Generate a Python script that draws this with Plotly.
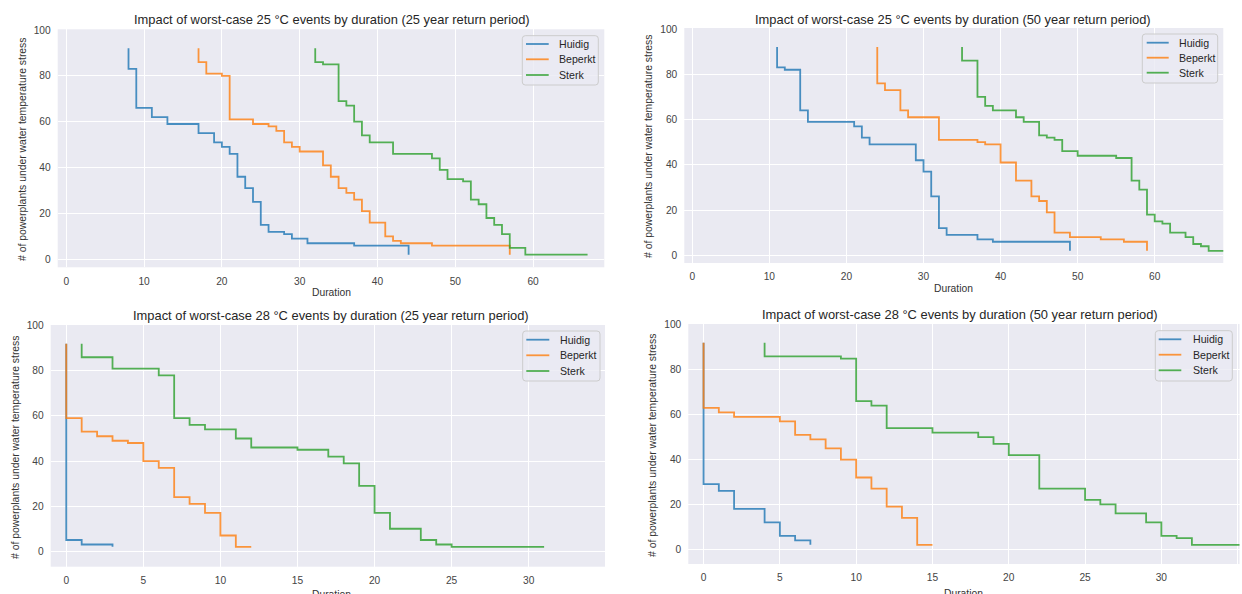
import plotly.graph_objects as go

# ---------------- data ----------------
names = ["Huidig", "Beperkt", "Sterk"]
colors = ["#1f77b4", "#ff7f0e", "#2ca02c"]

# 25 °C, 25 year
tl_huidig_x = [8, 8, 9, 11, 13, 17, 19, 20, 21, 22, 23, 24, 25, 26, 28, 29, 31, 37, 44]
tl_huidig_y = [92, 83, 66, 62, 59, 55, 51, 49, 46, 36, 31, 25, 15, 12, 11, 9, 7, 6, 2]
tl_beperkt_x = [17, 17, 18, 20, 21, 24, 26, 27, 28, 29, 30, 33, 34, 35, 36, 37, 38, 39, 41, 42, 43, 47, 57]
tl_beperkt_y = [92, 86, 81, 80, 61, 59, 58, 56, 51, 49, 47, 41, 36, 31, 29, 26, 21, 16, 10, 8, 7, 6, 2]
tl_sterk_x = [32, 32, 33, 35, 36, 37, 38, 39, 42, 47, 48, 49, 51, 52, 53, 54, 55, 56, 57, 59, 67]
tl_sterk_y = [92, 86, 85, 69, 67, 60, 54, 51, 46, 44, 39, 35, 34, 26, 24, 18, 15, 11, 5, 2, 2]

# 25 °C, 50 year
tr_huidig_x = [11, 11, 12, 14, 15, 21, 22, 23, 29, 30, 31, 32, 33, 37, 39, 49]
tr_huidig_y = [92, 83, 82, 64, 59, 57, 52, 49, 42, 37, 26, 12, 9, 7, 6, 2]
tr_beperkt_x = [24, 24, 25, 27, 28, 32, 37, 38, 40, 42, 44, 45, 46, 47, 49, 53, 56, 59]
tr_beperkt_y = [92, 76, 73, 64, 61, 51, 50, 49, 41, 33, 26, 24, 19, 10, 8, 7, 6, 2]
tr_sterk_x = [35, 35, 37, 38, 39, 42, 43, 45, 46, 47, 48, 50, 55, 57, 58, 59, 60, 61, 62, 64, 65, 66, 67, 70]
tr_sterk_y = [92, 86, 70, 66, 64, 61, 59, 53, 52, 51, 46, 44, 43, 33, 29, 18, 15, 14, 10, 8, 5, 4, 2, 2]

# 28 °C, 25 year
bl_huidig_x = [0, 0, 1, 3]
bl_huidig_y = [92, 5, 3, 2]
bl_beperkt_x = [0, 0, 1, 2, 3, 4, 5, 6, 7, 8, 9, 10, 11, 12]
bl_beperkt_y = [92, 59, 53, 51, 49, 48, 40, 37, 24, 21, 17, 7, 2, 2]
bl_sterk_x = [1, 1, 3, 6, 7, 8, 9, 11, 12, 15, 17, 18, 19, 20, 21, 23, 24, 25, 31]
bl_sterk_y = [92, 86, 81, 78, 59, 56, 54, 50, 46, 45, 42, 39, 29, 17, 10, 5, 3, 2, 2]

# 28 °C, 50 year
br_huidig_x = [0, 0, 1, 2, 4, 5, 6, 7]
br_huidig_y = [92, 29, 26, 18, 12, 6, 4, 2]
br_beperkt_x = [0, 0, 1, 2, 5, 6, 7, 8, 9, 10, 11, 12, 13, 14, 15]
br_beperkt_y = [92, 63, 61, 59, 57, 51, 49, 45, 40, 32, 27, 19, 14, 2, 2]
br_sterk_x = [4, 4, 9, 10, 11, 12, 15, 18, 19, 20, 22, 25, 26, 27, 29, 30, 31, 32, 36]
br_sterk_y = [92, 86, 85, 66, 64, 54, 52, 50, 47, 42, 27, 22, 20, 16, 12, 6, 5, 2, 2]

titles = [
    "Impact of worst-case 25 °C events by duration (25 year return period)",
    "Impact of worst-case 25 °C events by duration (50 year return period)",
    "Impact of worst-case 28 °C events by duration (25 year return period)",
    "Impact of worst-case 28 °C events by duration (50 year return period)",
]
x_label = "Duration"
y_label = "# of powerplants under water temperature stress"
top_xticks = [0, 10, 20, 30, 40, 50, 60]
bottom_xticks = [0, 5, 10, 15, 20, 25, 30, 35]
yticks = [0, 20, 40, 60, 80, 100]

panels = [
    [(tl_huidig_x, tl_huidig_y), (tl_beperkt_x, tl_beperkt_y), (tl_sterk_x, tl_sterk_y)],
    [(tr_huidig_x, tr_huidig_y), (tr_beperkt_x, tr_beperkt_y), (tr_sterk_x, tr_sterk_y)],
    [(bl_huidig_x, bl_huidig_y), (bl_beperkt_x, bl_beperkt_y), (bl_sterk_x, bl_sterk_y)],
    [(br_huidig_x, br_huidig_y), (br_beperkt_x, br_beperkt_y), (br_sterk_x, br_sterk_y)],
]

W, H = 1242, 594
def fx(px):
    return px / W
def fy(py):
    return 1 - py / H

# layout geometry (pixels): left, right, top, bottom
geom = [
    (57.7, 604.3, 29.3, 267.3),
    (684.3, 1223.3, 28.0, 263.0),
    (50.7, 605.0, 325.0, 566.7),
    (688.3, 1239.5, 324.0, 564.0),
]
xranges = [[-1.1, 69.15], [-1.04, 68.9], [-1.01, 34.95], [-1.0, 35.12]]
yranges = [[-3.49, 100.3], [-3.4, 100.44], [-6.83, 100.3], [-6.55, 100.4]]
xtick_sets = [top_xticks, top_xticks, bottom_xticks, bottom_xticks]

# legend geometry (pixels): box l, r, t, b, item ys, line x0, x1, text x
legend_geom = [
    (522.3, 598.3, 35.7, 85.0, [44.0, 59.3, 75.0], 526.0, 548.7, 557.3),
    (1142.3, 1217.7, 34.0, 83.0, [42.7, 57.7, 72.7], 1146.7, 1168.7, 1176.7),
    (522.7, 600.0, 331.0, 381.0, [339.7, 355.3, 371.0], 526.3, 549.3, 558.0),
    (1155.3, 1232.3, 330.7, 381.0, [339.3, 354.7, 370.3], 1158.7, 1181.3, 1190.7),
]

font = "Liberation Sans, Arial, sans-serif"
fig = go.Figure()

for p, series in enumerate(panels):
    suffix = "" if p == 0 else str(p + 1)
    for i, (xs, ys) in enumerate(series):
        fig.add_trace(go.Scatter(
            x=xs, y=ys, mode="lines", name=names[i],
            line=dict(color=colors[i], width=1.8, shape="hv"),
            opacity=0.8,
            xaxis="x" + suffix, yaxis="y" + suffix,
            showlegend=False,
        ))

layout = dict(
    width=W, height=H,
    margin=dict(l=0, r=0, t=0, b=0),
    paper_bgcolor="white",
    plot_bgcolor="#EAEAF2",
    font=dict(family=font, size=10, color="#333333"),
    annotations=[],
    shapes=[],
    showlegend=False,
)

axis_common = dict(
    showgrid=True, gridcolor="white", gridwidth=1,
    zeroline=False, showline=False, automargin=False,
    ticks="outside", ticklen=4, tickcolor="rgba(0,0,0,0)",
    tickfont=dict(family=font, size=10.2, color="#444444"),
)

for p in range(4):
    suffix = "" if p == 0 else str(p + 1)
    l, r, t, b = geom[p]
    layout["xaxis" + suffix] = dict(
        axis_common, domain=[fx(l), min(fx(r), 1.0)], range=xranges[p],
        tickmode="array", tickvals=xtick_sets[p],
        anchor="y" + suffix,
    )
    layout["yaxis" + suffix] = dict(
        axis_common, domain=[fy(b), fy(t)], range=yranges[p],
        tickmode="array", tickvals=yticks,
        anchor="x" + suffix,
    )
    # compact legend box (matplotlib-like)
    bl_, br_, bt_, bb_, iys, lx0, lx1, tx = legend_geom[p]
    rad = 3
    path = (f"M {fx(bl_ + rad)},{fy(bt_)} L {fx(br_ - rad)},{fy(bt_)} "
            f"Q {fx(br_)},{fy(bt_)} {fx(br_)},{fy(bt_ + rad)} "
            f"L {fx(br_)},{fy(bb_ - rad)} Q {fx(br_)},{fy(bb_)} {fx(br_ - rad)},{fy(bb_)} "
            f"L {fx(bl_ + rad)},{fy(bb_)} Q {fx(bl_)},{fy(bb_)} {fx(bl_)},{fy(bb_ - rad)} "
            f"L {fx(bl_)},{fy(bt_ + rad)} Q {fx(bl_)},{fy(bt_)} {fx(bl_ + rad)},{fy(bt_)} Z")
    layout["shapes"].append(dict(
        type="path", path=path, xref="paper", yref="paper",
        fillcolor="rgba(234,234,242,0.8)", line=dict(color="#CCCCCC", width=1),
    ))
    for i in range(3):
        layout["shapes"].append(dict(
            type="line", xref="paper", yref="paper",
            x0=fx(lx0), x1=fx(lx1), y0=fy(iys[i]), y1=fy(iys[i]),
            line=dict(color=colors[i], width=1.8), opacity=0.8,
        ))
        layout["annotations"].append(dict(
            text=names[i], x=fx(tx), y=fy(iys[i]), xref="paper", yref="paper",
            showarrow=False, xanchor="left", yanchor="middle",
            font=dict(family=font, size=10.6, color="#262626"),
        ))

# titles and axis labels
title_pos = [(331.7, 20), (953, 19), (331, 315), (960, 314)]
xlab_pos = [(331.7, 292), (953, 288), (331, 594), (963, 593)]
ylab_pos = [(22, 149), (648, 146), (15, 447), (652, 445)]
for p in range(4):
    layout["annotations"].append(dict(
        text=titles[p], x=fx(title_pos[p][0]), y=fy(title_pos[p][1]),
        xref="paper", yref="paper", showarrow=False,
        xanchor="center", yanchor="middle",
        font=dict(family=font, size=12.9, color="#262626"),
    ))
    layout["annotations"].append(dict(
        text=x_label, x=fx(xlab_pos[p][0]), y=fy(xlab_pos[p][1]),
        xref="paper", yref="paper", showarrow=False,
        xanchor="center", yanchor="middle",
        font=dict(family=font, size=10.3, color="#333333"),
    ))
    layout["annotations"].append(dict(
        text=y_label, x=fx(ylab_pos[p][0]), y=fy(ylab_pos[p][1]),
        xref="paper", yref="paper", showarrow=False, textangle=-90,
        xanchor="center", yanchor="middle",
        font=dict(family=font, size=10.4, color="#333333"),
    ))

fig.update_layout(**layout)
fig.write_html(
    "out.html",
    config={"displayModeBar": False},
    post_script="document.body.style.margin='0px';document.body.style.overflow='hidden';",
)
